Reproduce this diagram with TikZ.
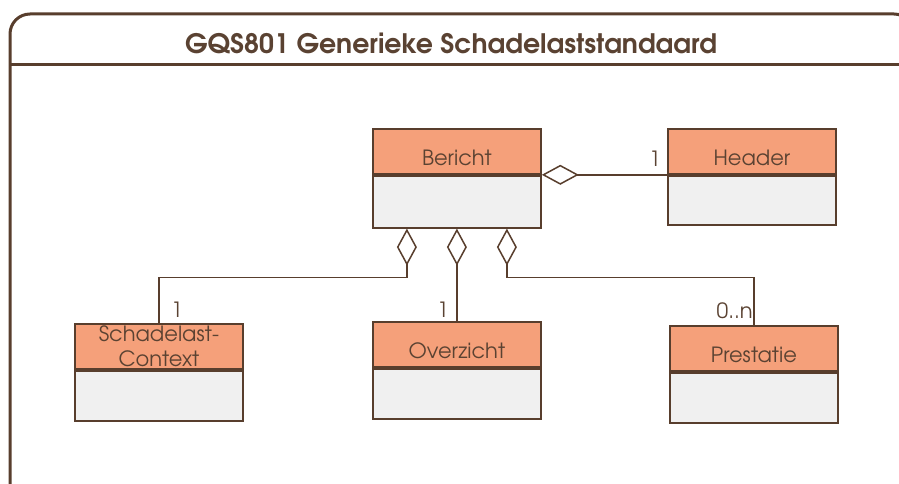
\documentclass[tikz,border=0pt]{standalone}
\usepackage{fontspec}
\setmainfont{TeX Gyre Adventor}
\usetikzlibrary{arrows.meta,calc}
\definecolor{lineBrown}{RGB}{88,62,45}
\definecolor{txtBrown}{RGB}{90,66,50}
\definecolor{headFill}{RGB}{245,160,122}
\definecolor{bodyFill}{RGB}{240,240,240}
\tikzset{
  frameline/.style={draw=lineBrown, line width=3pt},
  classhead/.style={draw=lineBrown, line width=1.8pt, fill=headFill, minimum width=168pt,
    minimum height=45pt, inner sep=0pt, anchor=north west, text=txtBrown,
    font=\fontsize{21}{25}\selectfont, text height=29pt, text depth=0pt},
  classbody/.style={draw=lineBrown, line width=1.8pt, fill=bodyFill, minimum width=168pt,
    inner sep=0pt, anchor=north},
  aggr/.style={draw=lineBrown, line width=1.5pt,
    {Diamond[open, fill=white, length=37pt, width=20pt, line width=1.5pt]}-},
  mult/.style={text=txtBrown, font=\fontsize{21}{24}\selectfont, inner sep=0pt},
}
\begin{document}
\begin{tikzpicture}[x=1pt,y=-1pt]
\useasboundingbox (0,0) rectangle (899,484);
% outer frame
\draw[frameline, rounded corners=20pt] (10,14) rectangle (914,508);
\coordinate (sepL) at (10,65);
\coordinate (sepR) at (914,65);
\draw[frameline] (sepL) -- (sepR);
\node[text=txtBrown, font=\bfseries\fontsize{26.8}{30}\selectfont, inner sep=0pt, anchor=base] (title) at (451,54) {GQS801 Generieke Schadelaststandaard};
% classes
\node[classhead] (berH) at (372,128) {Bericht};
\node[classbody, minimum height=52pt] (berB) at (berH.south) {};
\node[classhead] (hdrH) at (667,128) {Header};
\node[classbody, minimum height=49pt] (hdrB) at (hdrH.south) {};
\node[classhead, text height=, text depth=, align=center] (schH) at (74,323) {Schadelast-\\Context};
\node[classbody, minimum height=50pt] (schB) at (schH.south) {};
\node[classhead] (ovzH) at (372,321) {Overzicht};
\node[classbody, minimum height=50pt] (ovzB) at (ovzH.south) {};
\node[classhead] (preH) at (669,325) {Prestatie};
\node[classbody, minimum height=50pt] (preB) at (preH.south) {};
% connectors
\draw[aggr] (berH.south east) -- (hdrH.south west);
\coordinate (pL) at ($(berB.south)+(-50,0)$);
\coordinate (pR) at ($(berB.south)+(50,0)$);
\draw[aggr] (pL) -- ++(0,49) -| (schH.north);
\draw[aggr] (berB.south) -- (berB.south |- ovzH.north);
\draw[aggr] (pR) -- ++(0,49) -| (preH.north);
% multiplicities
\node[mult, anchor=base east] (m1) at ($(hdrH.south west)+(-6,-8)$) {1};
\node[mult, anchor=base west] (m2) at ($(schH.north)+(12,-6)$) {1};
\node[mult, anchor=base east] (m3) at ($(ovzH.north)+(-8,-4)$) {1};
\node[mult, anchor=base east] (m4) at ($(preH.north)+(-1,-7)$) {0..n};
\end{tikzpicture}
\end{document}
